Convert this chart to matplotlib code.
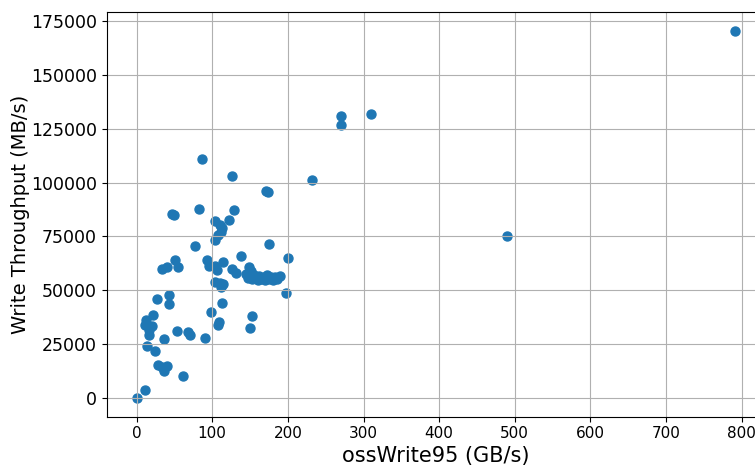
import matplotlib
matplotlib.use("Agg")
import matplotlib.pyplot as plt

oss_write95 = [
    0, 11, 61, 28, 34, 40, 36, 14, 24, 36, 53, 68, 70.5, 91, 16.5,
    22, 13, 11, 20, 16.3, 26.4, 43, 43, 99, 108, 109.5,
    46.3, 49.3, 82, 77.5, 33, 39.7, 50.6, 55, 92.6, 96,
    86, 126.4, 171, 174, 232, 128.7, 122.5,
    103.5, 110.2, 112.4, 111.1, 107.9, 103.5,
    175, 137.5, 199.7, 113.7, 103.5, 105.8, 126.4, 132, 149,
    103.5, 110, 114.5, 111, 197.4, 112.8, 152.9, 149.8,
    270, 270, 310, 490, 791.5,
    145, 147, 150, 151, 153, 155, 157, 160, 162, 165, 168, 170, 172,
    175, 178, 180, 183, 186, 190,
]
write_throughput = [
    0, 3700, 10200, 15300, 14500, 15200, 12700, 24300, 22000, 27500, 31000, 30800, 29200, 28000, 29400,
    38500, 36200, 33900, 33400, 31600, 46200, 48000, 43500, 40000, 33800, 35200,
    85400, 85000, 87600, 70600, 59700, 61000, 64000, 61000, 64000, 61400,
    110700, 103200, 96200, 95800, 101300, 87300, 82600,
    82000, 80300, 78800, 77200, 75700, 73300,
    71300, 66100, 65100, 63300, 61300, 59400, 59700, 57900, 61000,
    54000, 53500, 53200, 51700, 48900, 44400, 38200, 32800,
    130800, 126800, 132000, 75200, 170400,
    57500, 55800, 56500, 58800, 55300, 57000, 56000, 55000, 56500, 55200, 56000, 54800, 57000,
    55500, 56300, 55000, 56000, 55500, 56600,
]

x_label = "ossWrite95 (GB/s)"
y_label = "Write Throughput (MB/s)"

fig = plt.figure(figsize=(7.55, 4.65), dpi=100)
ax = fig.add_axes([0.1413, 0.1039, 0.8722, 0.8697])
ax.scatter(oss_write95, write_throughput, s=42, color="#1f77b4")
ax.grid(True)
ax.set_xticks([0, 100, 200, 300, 400, 500, 600, 700, 800])
ax.set_yticks([0, 25000, 50000, 75000, 100000, 125000, 150000, 175000])
ax.tick_params(axis="x", labelsize=11)
ax.tick_params(axis="y", labelsize=12.5)
ax.set_xlabel(x_label, fontsize=15)
ax.set_ylabel(y_label, fontsize=14)
ax.xaxis.set_label_coords(0.5, -0.072)
ax.yaxis.set_label_coords(-0.117, 0.5)
fig.savefig("out.png", dpi=100)
